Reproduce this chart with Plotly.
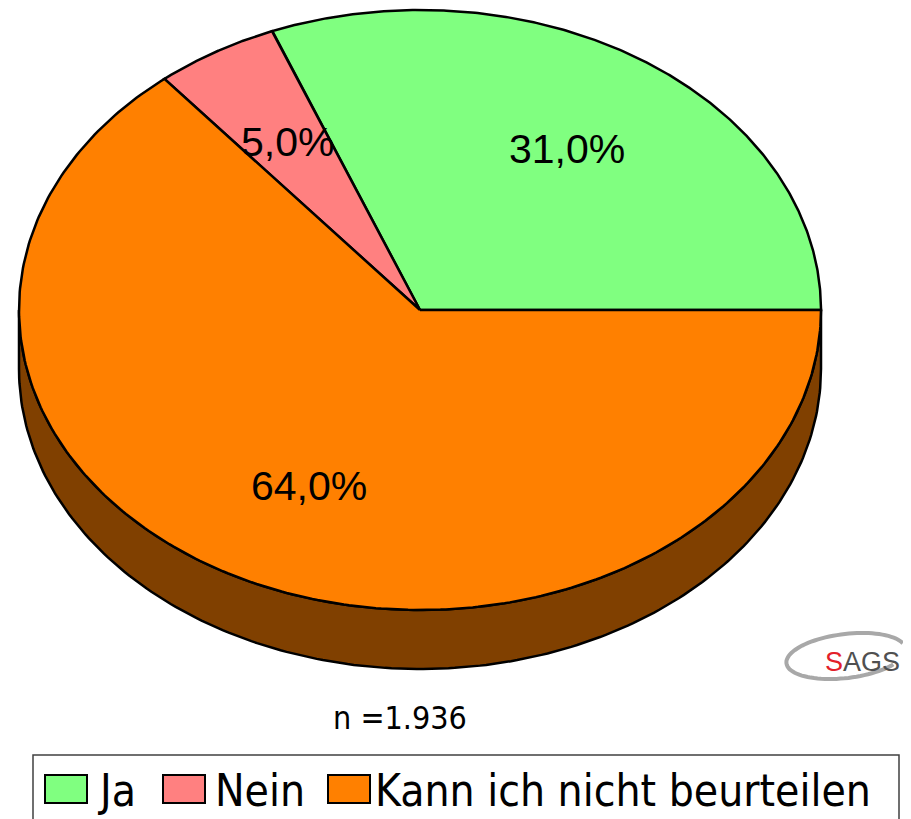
import numpy as np
import plotly.graph_objects as go

# ---------------- data ----------------
categories = ["Ja", "Nein", "Kann ich nicht beurteilen"]
shares = [31.0, 5.0, 64.0]
top_colors = ["#80FF80", "#FF8080", "#FF8000"]
side_colors = ["#408040", "#804040", "#804000"]
n_label = "n =1.936"

# ---------------- geometry (page pixels) ----------------
PAGE_W, PAGE_H = 911, 819
OFF = 8  # default body margin of the html page
W, H = PAGE_W - OFF, PAGE_H - OFF
cx, cy, rx, ry, depth = 420.0, 310.0, 401.0, 300.0, 59.0


def ell(a_deg, dy=0.0):
    a = np.radians(a_deg)
    return cx + rx * np.cos(a), cy - ry * np.sin(a) + dy


fig = go.Figure()

total = float(sum(shares))
starts, ends = [], []
acc = 0.0
for v in shares:
    starts.append(acc / total * 360.0)
    acc += v
    ends.append(acc / total * 360.0)

# side walls (front half only: 180..360 degrees)
for i, cat in enumerate(categories):
    lo, hi = max(starts[i], 180.0), min(ends[i], 360.0)
    if hi <= lo:
        continue
    angs = np.linspace(lo, hi, 200)
    xt, yt = ell(angs)
    xb, yb = ell(angs[::-1], depth)
    xs = np.concatenate([xt, xb, xt[:1]])
    ys = np.concatenate([yt, yb, yt[:1]])
    fig.add_trace(go.Scatter(x=xs, y=ys, mode="lines", fill="toself",
                             fillcolor=side_colors[i],
                             line=dict(color="black", width=2.5),
                             hoverinfo="skip", showlegend=False))

# top faces
for i, cat in enumerate(categories):
    angs = np.linspace(starts[i], ends[i], 300)
    xe, ye = ell(angs)
    xs = np.concatenate([[cx], xe, [cx]])
    ys = np.concatenate([[cy], ye, [cy]])
    fig.add_trace(go.Scatter(x=xs, y=ys, mode="lines", fill="toself",
                             fillcolor=top_colors[i],
                             line=dict(color="black", width=2.5),
                             name=cat, hoverinfo="skip", showlegend=False))

annotations = []
# percentage labels
for i, v in enumerate(shares):
    mid = (starts[i] + ends[i]) / 2.0
    a = np.radians(mid)
    lx = cx + 0.65 * rx * np.cos(a)
    ly = cy - 0.65 * ry * np.sin(a)
    txt = f"{v:.1f}".replace(".", ",") + "%"
    annotations.append(dict(x=lx, y=ly, xref="x", yref="y", text=txt,
                            showarrow=False, xanchor="center", yanchor="middle",
                            font=dict(family="Liberation Sans, Arial", size=41, color="black")))

# n label
annotations.append(dict(x=400, y=718, xref="x", yref="y", text=n_label, showarrow=False,
                        xanchor="center", yanchor="middle",
                        font=dict(family="DejaVu Sans Condensed, DejaVu Sans", size=32, color="black")))

# logo
annotations.append(dict(x=862, y=662, xref="x", yref="y",
                        text="<span style='color:#E3202A'>S</span>AGS", showarrow=False,
                        xanchor="center", yanchor="middle",
                        font=dict(family="Liberation Sans, Arial", size=27, color="#505050")))

shapes = []
# logo swoosh (open brush-like ellipse)
t = np.radians(np.linspace(15, 320, 80))
rot = np.radians(-7)
ex, ey = 60 * np.cos(t), -22 * np.sin(t)
px = 846 + ex * np.cos(rot) - ey * np.sin(rot)
py = 656 + ex * np.sin(rot) + ey * np.cos(rot)
path = "M " + " L ".join(f"{a:.1f},{b:.1f}" for a, b in zip(px, py))
shapes.append(dict(type="path", path=path, xref="x", yref="y",
                   line=dict(color="#A8A8A8", width=4)))

# legend box
shapes.append(dict(type="rect", x0=33, x1=899, y0=755, y1=840, xref="x", yref="y",
                   line=dict(color="#404040", width=1.5), fillcolor="rgba(0,0,0,0)"))
sw_x = [45, 163, 328]
tx_x = [95, 213, 373]
for i, cat in enumerate(categories):
    shapes.append(dict(type="rect", x0=sw_x[i], x1=sw_x[i] + 42, y0=775, y1=803,
                       xref="x", yref="y", fillcolor=top_colors[i],
                       line=dict(color="black", width=2)))
    annotations.append(dict(x=tx_x[i], y=790, xref="x", yref="y", text=cat, showarrow=False,
                            xanchor="left", yanchor="middle",
                            font=dict(family="DejaVu Sans Condensed, DejaVu Sans", size=44,
                                      color="black")))

fig.update_layout(
    width=W, height=H,
    margin=dict(l=0, r=0, t=0, b=0),
    paper_bgcolor="white", plot_bgcolor="white",
    xaxis=dict(range=[OFF, PAGE_W], visible=False, fixedrange=True),
    yaxis=dict(range=[PAGE_H, OFF], visible=False, fixedrange=True),
    shapes=shapes, annotations=annotations,
    showlegend=False,
)

fig.write_html("out.html")
